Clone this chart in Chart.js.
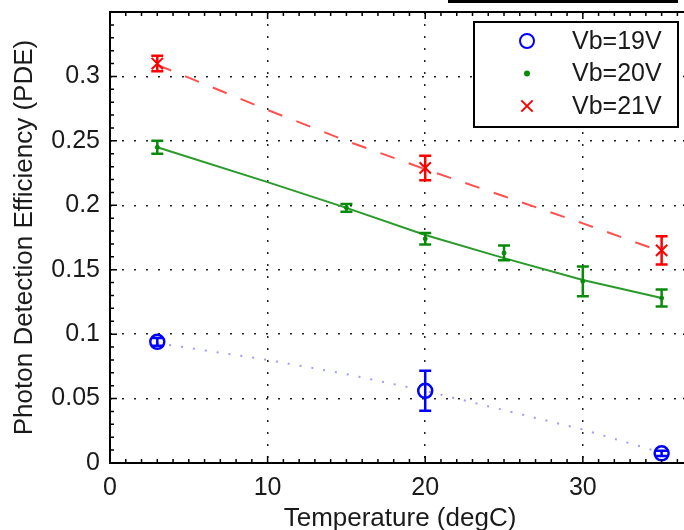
<!DOCTYPE html>
<html>
<head>
<meta charset="utf-8">
<script src="https://cdn.jsdelivr.net/npm/chart.js@4/dist/chart.umd.min.js"></script>
<style>
html, body { margin: 0; padding: 0; background: #fff; overflow: hidden; }
#wrap { position: relative; width: 700px; height: 530px; }
#topbar { position: absolute; left: 448px; top: 0; width: 230px; height: 3px; background: #000; }
</style>
</head>
<body>
<div id="wrap">
  <canvas id="pdeChart" width="700" height="530"></canvas>
  <div id="topbar"></div>
</div>
<script>
// measured points (temperature in degC, PDE, +/- error)
const seriesLabels = ['Vb=19V', 'Vb=20V', 'Vb=21V'];

const temps19 = [3, 20, 35];
const pde19 = [0.094, 0.056, 0.0075];
const err19 = [0.003, 0.0155, 0.002];

const temps20 = [3, 15, 20, 25, 30, 35];
const pde20 = [0.245, 0.198, 0.174, 0.163, 0.141, 0.128];
const err20 = [0.005, 0.003, 0.0045, 0.0057, 0.0115, 0.0066];

const temps21 = [3, 20, 35];
const pde21 = [0.310, 0.229, 0.165];
const err21 = [0.006, 0.0095, 0.011];

// fit curves
const fitTemps = [3, 10, 15, 20, 25, 30, 35];
const fit19 = [0.093, 0.080, 0.069, 0.056, 0.041, 0.026, 0.008];
const fit20 = [0.245, 0.218, 0.198, 0.177, 0.159, 0.142, 0.128];
const fit21 = [0.309, 0.274, 0.250, 0.228, 0.207, 0.186, 0.164];

const FONT = '"Liberation Sans", Arial, Helvetica, sans-serif';
const TEXT = '#1a1a1a';

function pts(xs, ys) {
    return xs.map((x, i) => ({ x: x, y: ys[i] }));
}

// error bars with caps, drawn from the y scale
const errorBars = {
    id: 'errorBars',
    afterDatasetsDraw(chart) {
        const ctx = chart.ctx;
        const yScale = chart.scales.y;
        chart.data.datasets.forEach((ds, i) => {
            if (!ds.errors) return;
            const meta = chart.getDatasetMeta(i);
            ctx.save();
            ctx.strokeStyle = ds.borderColor;
            ctx.lineWidth = 2.5;
            meta.data.forEach((pt, j) => {
                const v = ds.data[j].y;
                const top = yScale.getPixelForValue(v + ds.errors[j]);
                const bot = yScale.getPixelForValue(v - ds.errors[j]);
                ctx.beginPath();
                ctx.moveTo(pt.x, top); ctx.lineTo(pt.x, bot);
                ctx.moveTo(pt.x - 6, top); ctx.lineTo(pt.x + 6, top);
                ctx.moveTo(pt.x - 6, bot); ctx.lineTo(pt.x + 6, bot);
                ctx.stroke();
            });
            ctx.restore();
        });
    }
};

// box round the plot with inward major/minor ticks
const frame = {
    id: 'frame',
    afterDraw(chart) {
        const { ctx, chartArea: a, scales: { x, y } } = chart;
        ctx.save();
        ctx.strokeStyle = '#000';
        ctx.lineWidth = 1.5;
        ctx.beginPath();
        for (let t = 0; t <= Math.floor(x.max); t++) {
            const px = x.getPixelForValue(t);
            const len = t % 10 === 0 ? 7 : 4;
            ctx.moveTo(px, a.bottom); ctx.lineTo(px, a.bottom - len);
            ctx.moveTo(px, a.top); ctx.lineTo(px, a.top + len);
        }
        for (let k = 0; k <= 35; k++) {
            const py = y.getPixelForValue(k / 100);
            const len = k % 5 === 0 ? 7 : 4;
            ctx.moveTo(a.left, py); ctx.lineTo(a.left + len, py);
            ctx.moveTo(a.right, py); ctx.lineTo(a.right - len, py);
        }
        ctx.stroke();
        ctx.lineWidth = 2;
        ctx.strokeRect(a.left, a.top, a.right - a.left, a.bottom - a.top);
        ctx.restore();
    }
};

// legend box in the top right corner
const boxLegend = {
    id: 'boxLegend',
    afterDraw(chart) {
        const ctx = chart.ctx;
        ctx.save();
        ctx.fillStyle = '#fff';
        ctx.fillRect(474, 22, 204, 105);
        ctx.strokeStyle = '#000';
        ctx.lineWidth = 2;
        ctx.strokeRect(474, 22, 204, 105);
        seriesLabels.forEach((label, i) => {
            const ds = chart.data.datasets[i];
            const rowY = 41 + i * 32.5;
            ctx.strokeStyle = ds.borderColor;
            ctx.fillStyle = ds.backgroundColor;
            Chart.helpers.drawPoint(ctx, {
                pointStyle: ds.pointStyle,
                radius: ds.pointRadius,
                borderWidth: ds.borderWidth,
                rotation: 0
            }, 527, rowY);
            ctx.fillStyle = TEXT;
            ctx.font = '25px ' + FONT;
            ctx.textAlign = 'left';
            ctx.textBaseline = 'middle';
            ctx.fillText(label, 572, rowY + 1);
        });
        ctx.restore();
    }
};

const ctx = document.getElementById('pdeChart').getContext('2d');
const chart = new Chart(ctx, {
    type: 'scatter',
    data: {
        datasets: [
            {
                label: seriesLabels[0],
                data: pts(temps19, pde19),
                errors: err19,
                pointStyle: 'circle',
                pointRadius: 7,
                borderWidth: 2.5,
                borderColor: '#0000ff',
                backgroundColor: 'rgba(0,0,0,0)'
            },
            {
                label: seriesLabels[1],
                data: pts(temps20, pde20),
                errors: err20,
                pointStyle: 'circle',
                pointRadius: 2,
                borderWidth: 1,
                borderColor: '#0a8a0a',
                backgroundColor: '#0a8a0a'
            },
            {
                label: seriesLabels[2],
                data: pts(temps21, pde21),
                errors: err21,
                pointStyle: 'crossRot',
                pointRadius: 8,
                borderWidth: 2,
                borderColor: '#ff0000',
                backgroundColor: '#ff0000'
            },
            {
                label: 'fit 19V',
                data: pts(fitTemps, fit19),
                showLine: true,
                pointRadius: 0,
                borderWidth: 2,
                borderDash: [2, 10],
                borderColor: 'rgba(90,90,255,0.6)'
            },
            {
                label: 'fit 20V',
                data: pts(fitTemps, fit20),
                showLine: true,
                pointRadius: 0,
                borderWidth: 2,
                borderColor: '#2a9a2a'
            },
            {
                label: 'fit 21V',
                data: pts(fitTemps, fit21),
                showLine: true,
                pointRadius: 0,
                borderWidth: 2,
                borderDash: [15, 15],
                borderColor: '#ff5050'
            }
        ]
    },
    options: {
        responsive: false,
        animation: false,
        layout: { padding: { top: 12, right: 10, left: 0, bottom: 0 } },
        plugins: {
            legend: { display: false },
            tooltip: { enabled: false }
        },
        scales: {
            x: {
                type: 'linear',
                min: 0,
                max: 36.8,
                afterFit: s => { s.height = 67; s.paddingLeft = 0; s.paddingRight = 0; },
                ticks: {
                    stepSize: 10,
                    includeBounds: false,
                    padding: 10,
                    maxRotation: 0,
                    color: TEXT,
                    font: { family: FONT, size: 25 }
                },
                grid: {
                    color: c => (c.tick && c.tick.value > 0) ? '#222' : 'rgba(0,0,0,0)',
                    lineWidth: 1.5,
                    drawTicks: false
                },
                border: { display: false, dash: [2, 10] },
                title: {
                    display: true,
                    text: 'Temperature (degC)',
                    color: TEXT,
                    font: { family: FONT, size: 26, lineHeight: 1 },
                    padding: { top: 0, bottom: -2 }
                }
            },
            y: {
                min: 0,
                max: 0.35,
                afterFit: s => { s.width = 110; s.paddingTop = 0; s.paddingBottom = 0; },
                ticks: {
                    stepSize: 0.05,
                    padding: 10,
                    color: TEXT,
                    font: { family: FONT, size: 25 },
                    callback: v => v > 0.34 ? '' : String(Math.round(v * 100) / 100)
                },
                grid: {
                    color: c => (c.tick && c.tick.value > 0.001 && c.tick.value < 0.34) ? '#222' : 'rgba(0,0,0,0)',
                    lineWidth: 1.5,
                    drawTicks: false
                },
                border: { display: false, dash: [2, 10] },
                title: {
                    display: true,
                    text: 'Photon Detection Efficiency (PDE)',
                    color: TEXT,
                    font: { family: FONT, size: 26, lineHeight: 1 },
                    padding: { top: 12, bottom: 0 }
                }
            }
        }
    },
    plugins: [errorBars, frame, boxLegend]
});
</script>
</body>
</html>
